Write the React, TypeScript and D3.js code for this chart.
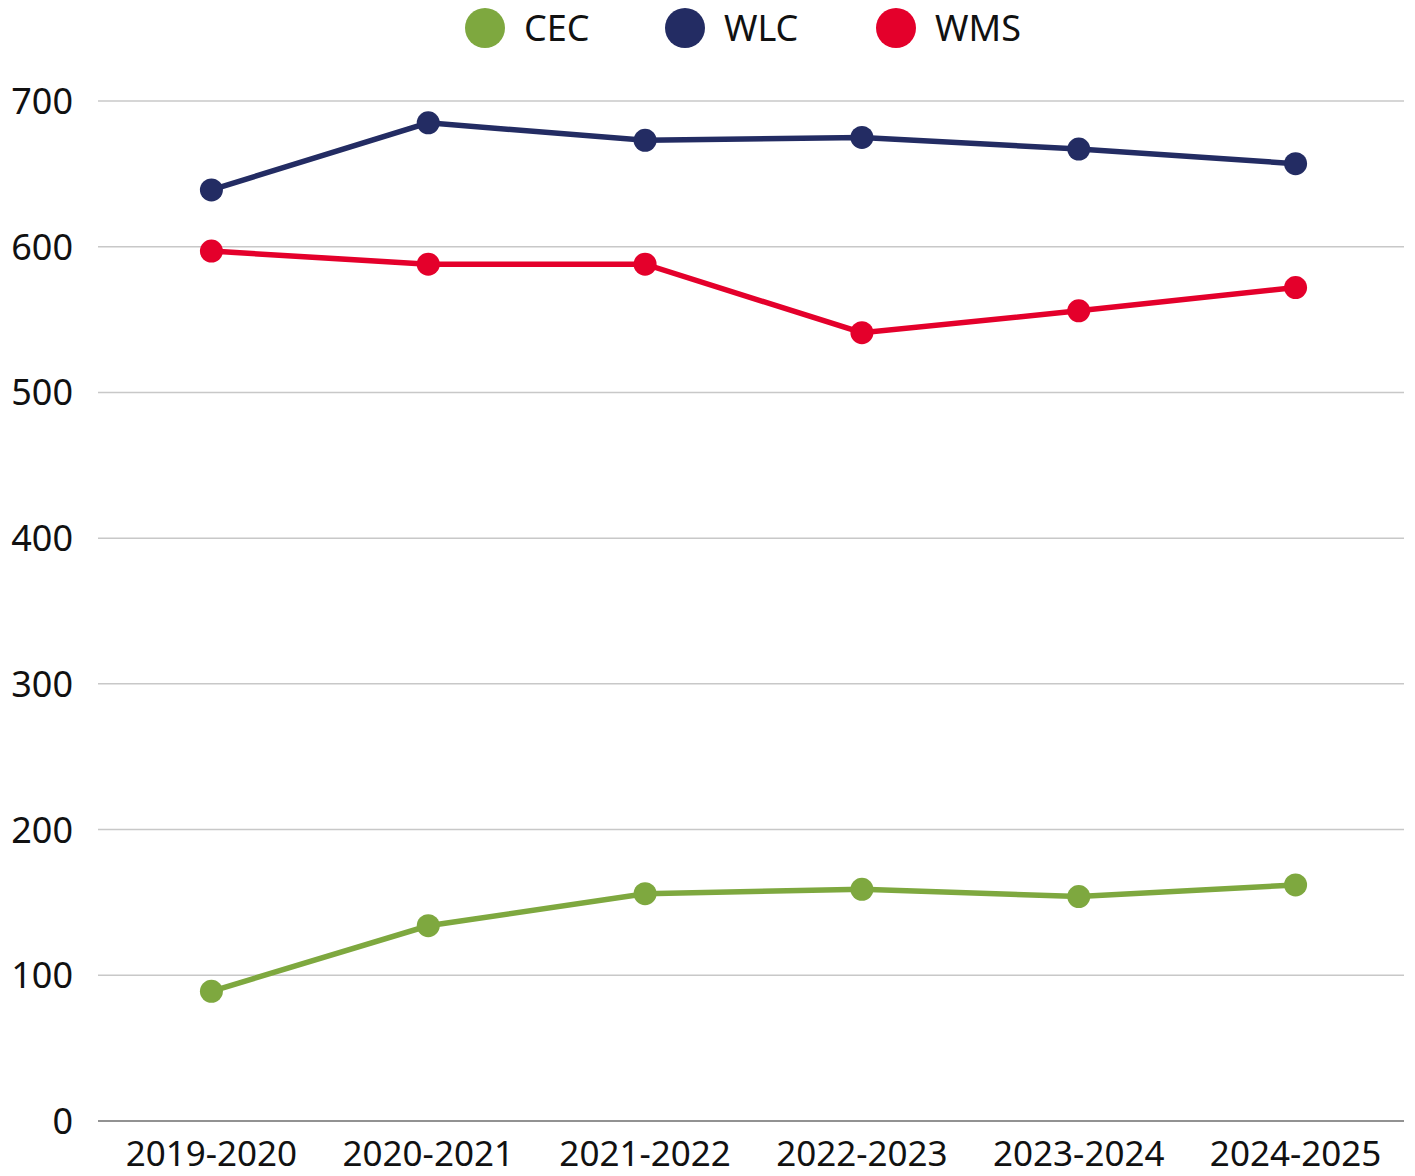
import React from "react";
import * as d3 from "d3";

const categories = ["2019-2020", "2020-2021", "2021-2022", "2022-2023", "2023-2024", "2024-2025"];
const cecValues = [89, 134, 156, 159, 154, 162];
const wlcValues = [639, 685, 673, 675, 667, 657];
const wmsValues = [597, 588, 588, 541, 556, 572];
const yTicks = [0, 100, 200, 300, 400, 500, 600, 700];

const series = [
  { name: "CEC", values: cecValues, color: "#7ea83f" },
  { name: "WLC", values: wlcValues, color: "#232c63" },
  { name: "WMS", values: wmsValues, color: "#e4002b" },
];

const W = 1415;
const H = 1176;
const FONT = "'Noto Sans', sans-serif";

export default function App() {
  const x = d3.scaleBand<string>().domain(categories).range([103, 1404]);
  const y = d3.scaleLinear().domain([0, 700]).range([1121, 101]);
  const line = d3
    .line<number>()
    .x((_, i) => (x(categories[i]) as number) + x.bandwidth() / 2)
    .y((d) => y(d));
  const legendX = [485, 685, 896];

  return (
    <svg width={W} height={H} style={{ position: "absolute", left: 0, top: 0, background: "#fff" }}>
      {yTicks.map((t) =>
        t === 0 ? null : (
          <line key={t} x1={98} x2={1404} y1={y(t)} y2={y(t)} stroke="#c8c8c8" strokeWidth={1.5} />
        )
      )}
      <line x1={98} x2={1404} y1={y(0)} y2={y(0)} stroke="#6e6e6e" strokeWidth={1.5} />
      {yTicks.map((t) => (
        <text key={t} x={73} y={y(t)} dy="0.36em" textAnchor="end" fontFamily={FONT} fontSize={36} fill="#111">
          {t}
        </text>
      ))}
      {categories.map((c) => (
        <text
          key={c}
          x={(x(c) as number) + x.bandwidth() / 2}
          y={1166}
          textAnchor="middle"
          fontFamily={FONT}
          fontSize={35}
          fill="#111"
        >
          {c}
        </text>
      ))}
      {series.map((s) => (
        <g key={s.name}>
          <path d={line(s.values) || ""} fill="none" stroke={s.color} strokeWidth={5.5} />
          {s.values.map((v, i) => (
            <circle
              key={i}
              cx={(x(categories[i]) as number) + x.bandwidth() / 2}
              cy={y(v)}
              r={11.5}
              fill={s.color}
            />
          ))}
        </g>
      ))}
      {series.map((s, i) => (
        <g key={s.name}>
          <circle cx={legendX[i]} cy={28} r={20} fill={s.color} />
          <text x={legendX[i] + 39} y={28} dy="0.36em" fontFamily={FONT} fontSize={36} fill="#111">
            {s.name}
          </text>
        </g>
      ))}
    </svg>
  );
}
